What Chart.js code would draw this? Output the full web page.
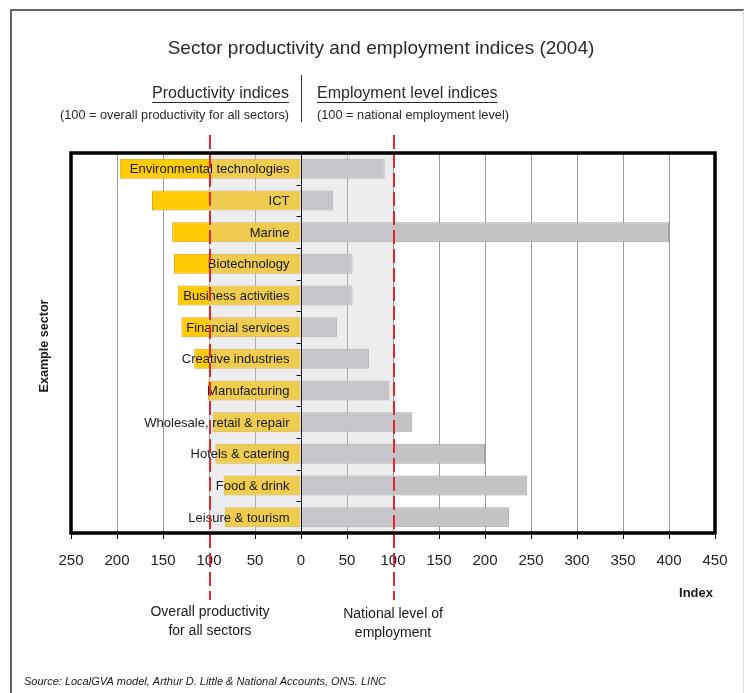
<!DOCTYPE html>
<html>
<head>
<meta charset="utf-8">
<script src="https://cdn.jsdelivr.net/npm/chart.js@4/dist/chart.umd.min.js"></script>
<style>
html,body{margin:0;padding:0;background:#fff;}
canvas{display:block;}
</style>
</head>
<body>
<canvas id="c" width="744" height="693"></canvas>
<script>
const categories = [
  "Environmental technologies", "ICT", "Marine", "Biotechnology",
  "Business activities", "Financial services", "Creative industries",
  "Manufacturing", "Wholesale, retail & repair", "Hotels & catering",
  "Food & drink", "Leisure & tourism"
];
const productivity = [197, 162, 140, 138, 134, 130, 116, 101, 96, 93, 84, 83];
const employment   = [91, 35, 400, 56, 56, 39, 74, 96, 121, 200, 246, 226];
const xTickValues  = [-250, -200, -150, -100, -50, 0, 50, 100, 150, 200, 250, 300, 350, 400, 450];
const referenceLines = [-100, 100];

const FONT = '"Liberation Sans", Arial, Helvetica, sans-serif';

const overlay = {
  id: 'overlay',
  afterDatasetsDraw(chart) {
    const { ctx, chartArea: a, scales: { x, y } } = chart;
    ctx.save();
    // shaded band between the reference lines
    const x1 = x.getPixelForValue(referenceLines[0]);
    const x2 = x.getPixelForValue(referenceLines[1]);
    ctx.fillStyle = 'rgba(205,205,212,0.36)';
    ctx.fillRect(x1, a.top, x2 - x1, a.bottom - a.top);
    // zero line
    const x0 = Math.round(x.getPixelForValue(0)) + 0.5;
    ctx.strokeStyle = '#111';
    ctx.lineWidth = 1;
    ctx.beginPath();
    ctx.moveTo(x0, a.top);
    ctx.lineTo(x0, a.bottom);
    ctx.stroke();
    // small ticks between categories
    for (let i = 1; i < categories.length; i++) {
      const yb = Math.round((y.getPixelForValue(i - 1) + y.getPixelForValue(i)) / 2) + 0.5;
      ctx.beginPath();
      ctx.moveTo(x0 - 5, yb);
      ctx.lineTo(x0, yb);
      ctx.stroke();
    }
    // category labels
    ctx.font = '13px ' + FONT;
    ctx.textAlign = 'right';
    ctx.textBaseline = 'middle';
    ctx.fillStyle = '#1a1a1a';
    categories.forEach((c, i) => ctx.fillText(c, x0 - 12, y.getPixelForValue(i) + 1));
    // red dashed reference lines
    ctx.strokeStyle = '#E3262B';
    ctx.lineWidth = 2;
    ctx.setLineDash([14, 5]);
    referenceLines.forEach(v => {
      const px = Math.round(x.getPixelForValue(v)) + 1;
      ctx.beginPath();
      ctx.moveTo(px, 135);
      ctx.lineTo(px, 600);
      ctx.stroke();
    });
    ctx.setLineDash([]);
    // plot border
    ctx.strokeStyle = '#000';
    ctx.lineWidth = 3.5;
    ctx.strokeRect(a.left, a.top, a.right - a.left, a.bottom - a.top);
    ctx.restore();
  },
  afterDraw(chart) {
    const { ctx } = chart;
    ctx.save();
    // outer frame
    ctx.strokeStyle = '#666';
    ctx.lineWidth = 2;
    ctx.beginPath();
    ctx.moveTo(11, 700);
    ctx.lineTo(11, 10);
    ctx.lineTo(744, 10);
    ctx.stroke();
    ctx.strokeStyle = '#ddd';
    ctx.lineWidth = 1;
    ctx.beginPath();
    ctx.moveTo(743.5, 10);
    ctx.lineTo(743.5, 700);
    ctx.stroke();

    ctx.fillStyle = '#2a2a2a';
    ctx.textBaseline = 'middle';
    // title
    ctx.font = '19px ' + FONT;
    ctx.textAlign = 'center';
    ctx.fillText('Sector productivity and employment indices (2004)', 381, 49, 436);

    // headers
    ctx.font = '16px ' + FONT;
    ctx.textAlign = 'right';
    ctx.fillText('Productivity indices', 289, 94, 137);
    let w = Math.min(ctx.measureText('Productivity indices').width, 137);
    ctx.fillRect(289 - w, 102, w, 1);
    ctx.textAlign = 'left';
    ctx.fillText('Employment level indices', 317, 94, 182);
    w = Math.min(ctx.measureText('Employment level indices').width, 182);
    ctx.fillRect(317, 102, w, 1);

    ctx.font = '13px ' + FONT;
    ctx.textAlign = 'right';
    ctx.fillText('(100 = overall productivity for all sectors)', 289, 115, 229);
    ctx.textAlign = 'left';
    ctx.fillText('(100 = national employment level)', 317, 115, 192);

    // separator
    ctx.fillStyle = '#333';
    ctx.fillRect(301, 75, 1, 47);

    ctx.fillStyle = '#1a1a1a';
    // axis titles
    ctx.font = 'bold 13px ' + FONT;
    ctx.textAlign = 'right';
    ctx.fillText('Index', 713, 593);
    ctx.save();
    ctx.translate(44, 346);
    ctx.rotate(-Math.PI / 2);
    ctx.textAlign = 'center';
    ctx.fillText('Example sector', 0, 0, 93);
    ctx.restore();

    // annotations
    ctx.font = '14px ' + FONT;
    ctx.textAlign = 'center';
    ctx.fillText('Overall productivity', 210, 612);
    ctx.fillText('for all sectors', 210, 631);
    ctx.fillText('National level of', 393, 614);
    ctx.fillText('employment', 393, 633);

    // source
    ctx.font = 'italic 11.5px ' + FONT;
    ctx.textAlign = 'left';
    ctx.fillText('Source: LocalGVA model, Arthur D. Little & National Accounts, ONS. LINC', 24, 682, 362);
    ctx.restore();
  }
};

new Chart(document.getElementById('c'), {
  type: 'bar',
  data: {
    labels: categories,
    datasets: [
      {
        label: 'Productivity indices',
        data: productivity.map(v => -v),
        backgroundColor: '#FFCB05',
        borderColor: '#E0A300',
        borderWidth: 1,
        borderSkipped: false,
        barPercentage: 0.63,
        categoryPercentage: 1
      },
      {
        label: 'Employment level indices',
        data: employment,
        backgroundColor: '#C3C3C5',
        borderColor: '#A5A5A8',
        borderWidth: 1,
        borderSkipped: false,
        barPercentage: 0.63,
        categoryPercentage: 1
      }
    ]
  },
  options: {
    indexAxis: 'y',
    responsive: false,
    animation: false,
    layout: { padding: { left: 71, right: 29, top: 153, bottom: 110 } },
    plugins: { legend: { display: false }, tooltip: { enabled: false }, title: { display: false } },
    scales: {
      x: {
        stacked: true,
        min: -250,
        max: 450,
        afterBuildTicks: (scale) => { scale.ticks = xTickValues.map(v => ({ value: v })); },
        ticks: {
          callback: (v) => String(Math.abs(v)),
          font: { size: 15, family: FONT },
          color: '#222',
          padding: 13,
          maxRotation: 0,
          autoSkip: false
        },
        grid: {
          color: (ctx) => (ctx.tick && ctx.tick.value === 0) ? 'rgba(0,0,0,0)' : '#9c9c9c',
          lineWidth: 1,
          tickLength: 6,
          tickColor: '#000',
          drawTicks: true
        },
        border: { display: false }
      },
      y: {
        stacked: true,
        display: false,
        grid: { display: false }
      }
    }
  },
  plugins: [overlay]
});
</script>
</body>
</html>
